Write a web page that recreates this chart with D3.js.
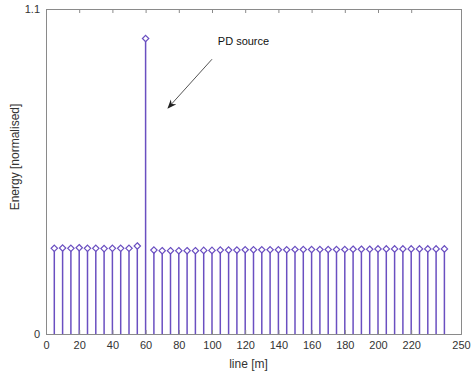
<!DOCTYPE html>
<html>
<head>
<meta charset="utf-8">
<script src="https://cdn.jsdelivr.net/npm/d3@7"></script>
<style>
  body { margin: 0; background: #fff; }
  #chart { width: 471px; height: 377px; }
</style>
</head>
<body>
<div id="chart"></div>
<script>
// data
var positions = [5, 10, 15, 20, 25, 30, 35, 40, 45, 50, 55, 60, 65, 70, 75, 80, 85, 90, 95, 100,
    105, 110, 115, 120, 125, 130, 135, 140, 145, 150, 155, 160, 165, 170, 175, 180, 185, 190,
    195, 200, 205, 210, 215, 220, 225, 230, 235, 240];
var energy = [0.290, 0.291, 0.290, 0.292, 0.290, 0.290, 0.289, 0.290, 0.290, 0.290, 0.298, 1.0,
    0.284, 0.282, 0.282, 0.282, 0.282, 0.282, 0.283, 0.283, 0.284, 0.284, 0.284, 0.285, 0.285,
    0.285, 0.285, 0.285, 0.285, 0.286, 0.286, 0.286, 0.286, 0.286, 0.286, 0.286, 0.287, 0.287,
    0.287, 0.288, 0.288, 0.288, 0.288, 0.288, 0.288, 0.288, 0.288, 0.288];
var xTicks = [0, 20, 40, 60, 80, 100, 120, 140, 160, 180, 200, 220, 250];
var yTicks = [0, 1.1];

var svgwidth = 471, svgheight = 377;
var _margin = {top: 9, left: 46, right: 10, bottom: 43};
var w = svgwidth - _margin.left - _margin.right;
var h = svgheight - _margin.top - _margin.bottom;
var stemColor = '#6a4fc1';
var axisColor = '#8a8a8a';
var textColor = '#333333';

var _svg = d3.select('#chart').append('svg')
    .attr('width', svgwidth)
    .attr('height', svgheight)
    .style('font-family', 'Liberation Sans, Arial, sans-serif');

var g = _svg.append('g')
    .attr('transform', 'translate(' + _margin.left + ',' + _margin.top + ')');

var x = d3.scaleLinear().domain([0, 250]).range([0, w]);
var y = d3.scaleLinear().domain([0, 1.1]).range([h, 0]);

// stems
g.selectAll('.stem')
    .data(positions)
    .enter().append('line')
    .attr('class', 'stem')
    .attr('x1', function (d) { return x(d); })
    .attr('x2', function (d) { return x(d); })
    .attr('y1', y(0))
    .attr('y2', function (d, i) { return y(energy[i]); })
    .attr('stroke', stemColor)
    .attr('stroke-width', 1.5);

// diamond markers
var dsym = d3.symbol().type(d3.symbolDiamond2).size(26);
g.selectAll('.mark')
    .data(positions)
    .enter().append('path')
    .attr('class', 'mark')
    .attr('d', dsym)
    .attr('transform', function (d, i) { return 'translate(' + x(d) + ',' + y(energy[i]) + ')'; })
    .attr('fill', '#fff')
    .attr('stroke', stemColor)
    .attr('stroke-width', 1.2);

// axes box
var xAxis = d3.axisBottom(x).tickValues(xTicks).tickSize(-4).tickPadding(7).tickFormat(d3.format('d'));
var xTop = d3.axisTop(x).tickValues(xTicks).tickSize(-4).tickFormat('');
var yAxis = d3.axisLeft(y).tickValues(yTicks).tickSize(-4).tickPadding(6).tickFormat(function (d) { return d === 0 ? '0' : d3.format('.1f')(d); });
var yRight = d3.axisRight(y).tickValues(yTicks).tickSize(-4).tickFormat('');

function styleAxis(sel) {
    sel.select('.domain').attr('stroke', axisColor);
    sel.selectAll('.tick line').attr('stroke', axisColor);
    sel.selectAll('.tick text').attr('fill', textColor).style('font-size', '11px').attr('font-family', null);
}
g.append('g').attr('transform', 'translate(0,' + h + ')').call(xAxis).call(styleAxis);
g.append('g').call(xTop).call(styleAxis);
g.append('g').call(yAxis).call(styleAxis);
g.append('g').attr('transform', 'translate(' + w + ',0)').call(yRight).call(styleAxis);

// axis labels
_svg.append('text')
    .attr('x', _margin.left + x(122))
    .attr('y', 368)
    .attr('text-anchor', 'middle')
    .attr('fill', textColor)
    .style('font-size', '12px')
    .text('line [m]');
_svg.append('text')
    .attr('transform', 'translate(19,157) rotate(-90)')
    .attr('text-anchor', 'middle')
    .attr('fill', textColor)
    .style('font-size', '12px')
    .text('Energy [normalised]');

// annotation
_svg.append('defs').append('marker')
    .attr('id', 'arr')
    .attr('viewBox', '0 0 10 10')
    .attr('refX', 9).attr('refY', 5)
    .attr('markerWidth', 9).attr('markerHeight', 9)
    .attr('orient', 'auto')
    .append('path')
    .attr('d', 'M0,1 L10,5 L0,9 L3,5 Z')
    .attr('fill', '#222');
g.append('line')
    .attr('x1', x(100)).attr('y1', y(0.93))
    .attr('x2', x(73.5)).attr('y2', y(0.765))
    .attr('stroke', '#555')
    .attr('stroke-width', 1)
    .attr('marker-end', 'url(#arr)');
g.append('text')
    .attr('x', x(103.5))
    .attr('y', y(0.977))
    .attr('fill', '#111')
    .style('font-size', '11px')
    .text('PD source');
</script>
</body>
</html>
